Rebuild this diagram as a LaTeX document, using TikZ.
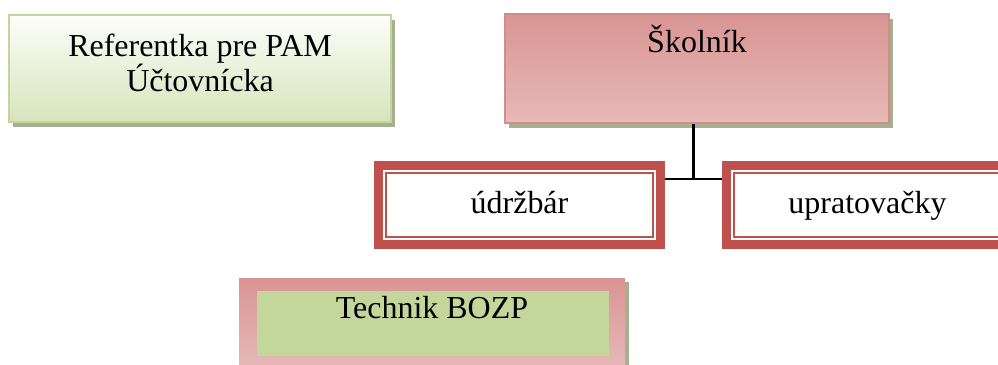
\documentclass[tikz,border=0pt]{standalone}
\usepackage{fontspec}
\setmainfont{Liberation Serif}
\usetikzlibrary{shadows}

\definecolor{leafedge}{RGB}{195,214,155}
\definecolor{leaftop}{RGB}{253,254,250}
\definecolor{leafbottom}{RGB}{215,228,189}
\definecolor{shadowgreen}{RGB}{166,176,145}
\definecolor{rosetop}{RGB}{217,149,148}
\definecolor{rosebottom}{RGB}{230,185,184}
\definecolor{rosedge}{RGB}{213,139,138}
\definecolor{staffred}{RGB}{192,80,77}
\definecolor{bozpgreen}{RGB}{195,214,155}

\begin{document}
\begin{tikzpicture}[
  font=\fontsize{9.1}{10}\selectfont,
  greenbox/.style={draw=leafedge, line width=0.6pt, top color=leaftop, bottom color=leafbottom, minimum width=3.82cm, minimum height=1.07cm,
    drop shadow={shadow xshift=1.2pt, shadow yshift=-1.3pt, fill=shadowgreen, opacity=1}},
  pinkbox/.style={draw=rosedge, line width=0.6pt, top color=rosetop, bottom color=rosebottom, minimum width=3.84cm, minimum height=1.09cm,
    drop shadow={shadow xshift=1.2pt, shadow yshift=-1.3pt, fill=shadowgreen, opacity=1}},
  staffbox/.style={draw=staffred, line width=2.55pt, fill=white, minimum width=2.82cm, minimum height=0.79cm, inner sep=0pt,
    text height=0.75em, text depth=0.25em,
    path picture={\draw[staffred, line width=0.45pt] ([shift={(0.074,0.074)}]path picture bounding box.south west) rectangle ([shift={(-0.074,-0.074)}]path picture bounding box.north east);}},
  bozpframe/.style={top color=rosetop, bottom color=rosebottom, minimum width=3.86cm, minimum height=0.9cm,
    drop shadow={shadow xshift=1.0pt, shadow yshift=-1.0pt, fill=shadowgreen, opacity=1}},
  bozpfill/.style={fill=bozpgreen, minimum width=3.52cm, minimum height=0.65cm},
  boxtext/.style={inner sep=0pt, align=center},
  link/.style={line width=0.6pt}
]
\useasboundingbox (0,0) rectangle (9.98,3.65);
\clip (0,0) rectangle (9.98,3.65);

% left block
\node[greenbox] (ref) at (2.00, 2.965) {};
\node[boxtext, anchor=north] (reftext) at (2.00, 3.32) {Referentka pre PAM\\Účtovnícka};

% school caretaker and staff
\node[pinkbox] (skolnik) at (6.97, 2.965) {};
\node[boxtext, anchor=base] (skolniktext) at (6.97, 3.12) {Školník};

\node[staffbox] (udrzbar) at (5.195, 1.60) {údržbár};
\node[staffbox] (upratovacky) at (8.675, 1.60) {upratovačky};

\coordinate (joint) at (6.935, 1.86);
\draw[link] (joint |- skolnik.south) -- (joint);
\draw[link] (udrzbar.east |- joint) -- (upratovacky.west |- joint);

% safety technician
\node[bozpframe] (bozp) at (4.32, 0.41) {};
\node[bozpfill] (bozpinner) at (4.33, 0.415) {};
\node[boxtext, anchor=base] (bozptext) at (4.32, 0.46) {Technik BOZP};

\end{tikzpicture}
\end{document}
